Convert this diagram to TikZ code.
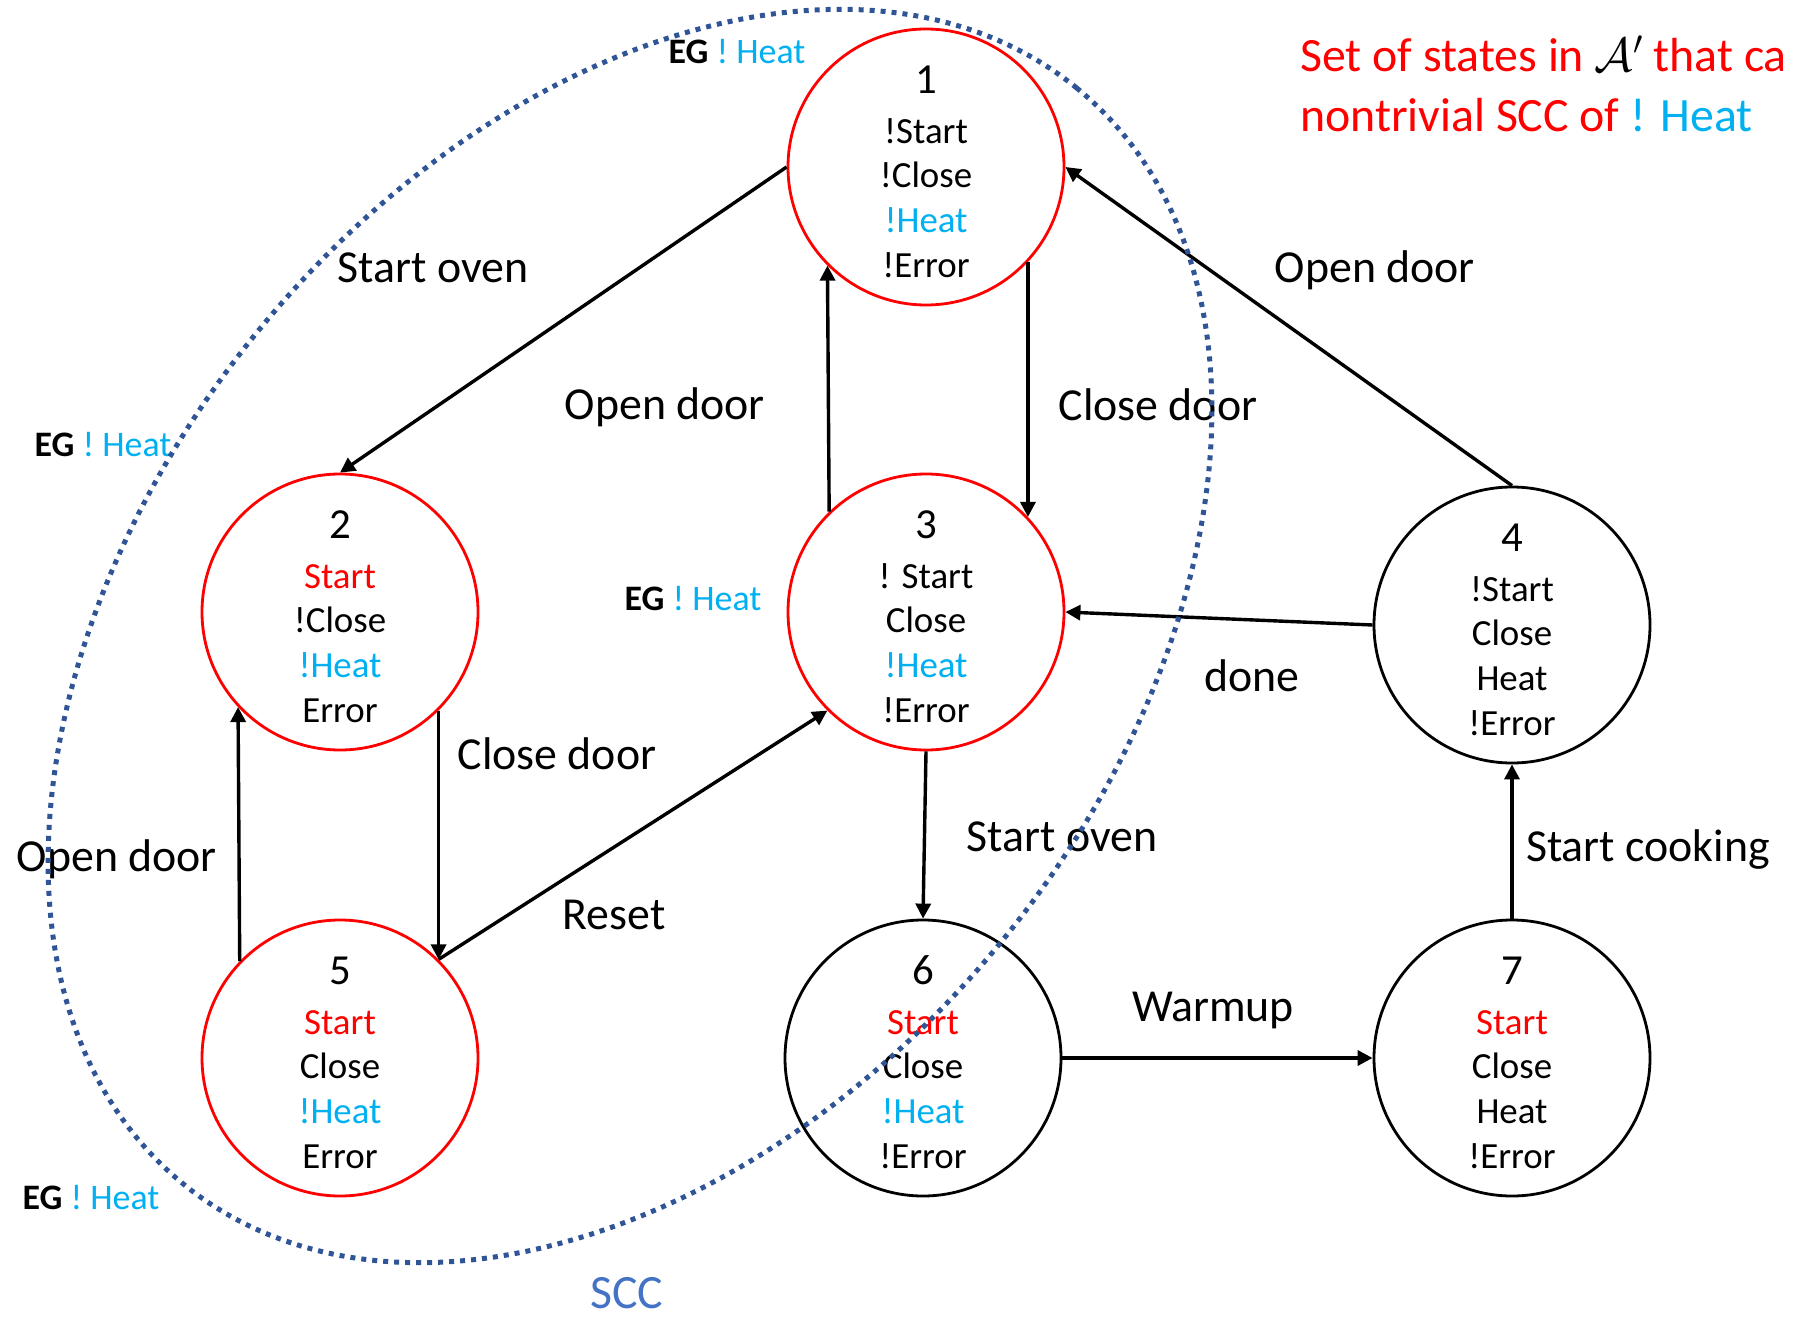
\RequirePackage{fix-cm}
\documentclass[tikz,border=0pt]{standalone}
\usepackage{fontspec}
\setmainfont{Carlito}
\usetikzlibrary{arrows.meta}
\definecolor{heatblue}{HTML}{00B0F0}
\definecolor{sccdots}{HTML}{2F5597}
\definecolor{scctext}{HTML}{4472C4}
\newcommand{\hb}[1]{\textcolor{heatblue}{#1}}
\newcommand{\rd}[1]{\textcolor{red}{#1}}
\newcommand{\stnum}[1]{{\fontsize{43}{45}\selectfont\rule{0pt}{37bp}#1}\\[5bp]}
\newcommand{\eglabel}{\textbf{EG} \hb{! Heat}}

\begin{document}
\begin{tikzpicture}[x=1bp,y=-1bp,
  state/.style={circle, draw, line width=2.8bp, minimum size=276bp, inner sep=0pt,
    align=center, font=\fontsize{37}{45}\selectfont},
  goodstate/.style={state, draw=red},
  plainstate/.style={state, draw=black},
  trans/.style={line width=3.4bp, -{Triangle[length=15bp,width=15bp]}},
  lbl/.style={font=\fontsize{46}{55}\selectfont, inner sep=0pt, text height=29.6bp, text depth=0pt},
  eg/.style={font=\fontsize{36}{43}\selectfont, inner sep=0pt, text height=23.2bp, text depth=0pt},
  title/.style={font=\fontsize{48}{60}\selectfont, inner sep=0pt, anchor=base west, text=red},
]
\useasboundingbox (0,0) rectangle (1793,1319);

% states
\node[goodstate]  (n1) at (926,167)  {\stnum{1}!Start\\!Close\\\hb{!Heat}\\!Error};
\node[goodstate]  (n2) at (340,612)  {\stnum{2}\rd{Start}\\!Close\\\hb{!Heat}\\Error};
\node[goodstate]  (n3) at (926,612)  {\stnum{3}! Start\\Close\\\hb{!Heat}\\!Error};
\node[plainstate] (n4) at (1512,625) {\stnum{4}!Start\\Close\\Heat\\!Error};
\node[goodstate]  (n5) at (340,1058) {\stnum{5}\rd{Start}\\Close\\\hb{!Heat}\\Error};
\node[plainstate] (n6) at (923,1058) {\stnum{6}\rd{Start}\\Close\\\hb{!Heat}\\!Error};
\node[plainstate] (n7) at (1512,1058) {\stnum{7}\rd{Start}\\Close\\Heat\\!Error};

% transitions
\draw[trans] (n1.180)   -- (n2.90);
\draw[trans] (n3.134.7) -- (n1.225.3);
\draw[trans] (n1.-43.6) -- (n3.43.6);
\draw[trans] (n4.90)    -- (n1.0);
\draw[trans] (n4.180)   -- (n3.0);
\draw[trans] (n2.-45.9) -- (n5.45.9);
\draw[trans] (n5.136.4) -- (n2.223.6);
\draw[trans] (n5.45.6)  -- (n3.225.3);
\draw[trans] (n3.270)   -- (n6.90);
\draw[trans] (n6.0)     -- (n7.180);
\draw[trans] (n7.90)    -- (n4.270);

% transition labels
\node[lbl] (l12) at (433,268)  {Start oven};
\node[lbl] (l31) at (665,405)  {Open door};
\node[lbl] (l13) at (1158,406) {Close door};
\node[lbl] (l41) at (1375,268) {Open door};
\node[lbl] (l43) at (1252,677) {done};
\node[lbl] (l25) at (557,755)  {Close door};
\node[lbl] (l52) at (117,857)  {Open door};
\node[lbl] (l53) at (614,915)  {Reset};
\node[lbl] (l36) at (1062,837) {Start oven};
\node[lbl] (l74) at (1648,847) {Start cooking};
\node[lbl] (l67) at (1213,1007) {Warmup};

% EG annotations
\node[eg] (eg1) at (737,52)   {\eglabel};
\node[eg] (eg2) at (103,445)  {\eglabel};
\node[eg] (eg3) at (693,599)  {\eglabel};
\node[eg] (eg5) at (91,1198)  {\eglabel};

% heading
\node[title] (t1) at (1300,72)  {Set of states in \textcolor{black}{$\mathcal{A}'$} that ca};
\node[title] (t2) at (1300,132) {nontrivial SCC of \hb{! Heat}};

% strongly connected component
\draw[sccdots, line width=5bp, dash pattern=on 5bp off 6bp]
  [shift={(630,636)}, rotate=50.8] (0,0) ellipse [x radius=707bp, y radius=481bp];
\node[lbl, text=scctext, font=\fontsize{48}{58}\selectfont, text height=31bp] (scc) at (627,1293) {SCC};
\end{tikzpicture}
\end{document}
